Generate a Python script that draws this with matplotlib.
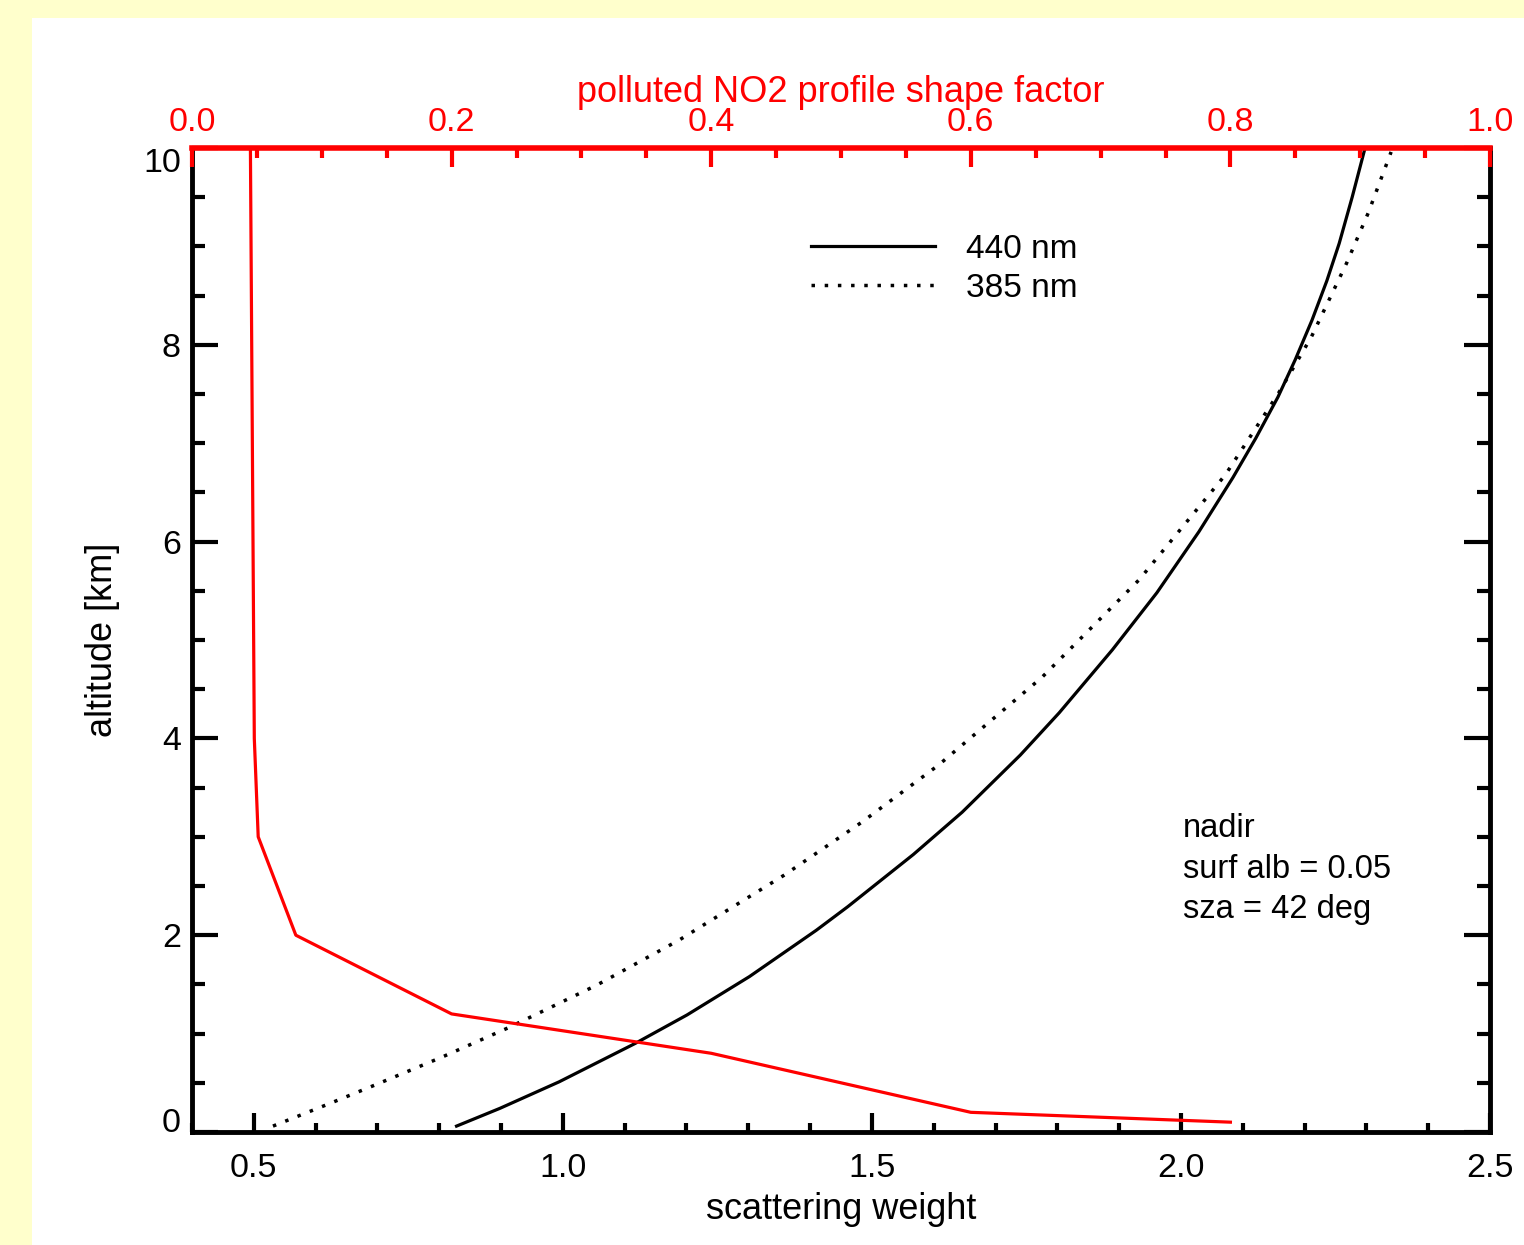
import matplotlib
matplotlib.use('Agg')
import matplotlib.pyplot as plt
import matplotlib.patches as patches
from matplotlib.ticker import MultipleLocator

plt.rcParams['font.family'] = ['Liberation Sans', 'DejaVu Sans']

# scattering weight, 440 nm (solid)
alt_440 = [0.06, 0.24, 0.51, 0.90, 1.19, 1.58, 2.05, 2.29, 2.82, 3.25, 3.83,
           4.26, 4.90, 5.48, 6.10, 6.65, 7.05, 7.47, 7.85, 8.25, 8.65, 9.03,
           9.50, 9.98]
sw_440 = [0.828, 0.898, 0.994, 1.117, 1.201, 1.302, 1.410, 1.461, 1.567, 1.646,
          1.740, 1.803, 1.889, 1.961, 2.029, 2.084, 2.121, 2.157, 2.185, 2.212,
          2.236, 2.256, 2.277, 2.297]

# scattering weight, 385 nm (dotted)
alt_385 = [0.06, 0.29, 0.48, 0.76, 1.06, 1.49, 1.95, 2.61, 3.15, 3.73, 4.62,
           5.61, 6.68, 7.51, 8.08, 8.83, 9.34, 9.96]
sw_385 = [0.531, 0.623, 0.697, 0.804, 0.912, 1.054, 1.188, 1.358, 1.484, 1.608,
          1.775, 1.932, 2.072, 2.158, 2.211, 2.268, 2.303, 2.340]

# polluted NO2 profile shape factor (red, top axis)
alt_no2 = [10.0, 4.0, 3.0, 2.0, 1.2, 0.8, 0.2, 0.1]
shape_no2 = [0.045, 0.048, 0.051, 0.080, 0.200, 0.400, 0.600, 0.800]

legend_labels = ['440 nm', '385 nm']
info_text = 'nadir\nsurf alb = 0.05\nsza = 42 deg'

TICK_FS = 24.5
LABEL_FS = 26

W, H = 1524, 1245
fig = plt.figure(figsize=(W / 100, H / 100), dpi=100, facecolor='#FFFFCC')
# white sheet on the pale yellow page
fig.add_artist(patches.Rectangle((32 / W, 0), 1, (H - 18) / H,
                                 transform=fig.transFigure,
                                 facecolor='white', edgecolor='none', zorder=0))

ax = fig.add_axes([192 / W, 1 - 1132 / H, 1298 / W, 984 / H])
ax.set_facecolor('none')

l1, = ax.plot(sw_440, alt_440, color='k', lw=2.3)
l2, = ax.plot(sw_385, alt_385, color='k', lw=2.5, linestyle=(0, (1, 2.8)))

ax.set_xlim(0.4, 2.5)
ax.set_ylim(0, 10)
ax.xaxis.set_minor_locator(MultipleLocator(0.1))
ax.yaxis.set_minor_locator(MultipleLocator(0.5))
ax.set_xticks([0.5, 1.0, 1.5, 2.0, 2.5])
ax.set_xticklabels(['0.5', '1.0', '1.5', '2.0', '2.5'])
ax.set_yticks([0, 2, 4, 6, 8, 10])
ax.set_yticklabels(['0', '2', '4', '6', '8', '10'])

ax.tick_params(axis='x', which='major', direction='in', length=13.5, width=3,
               labelsize=TICK_FS, pad=15, top=False)
ax.tick_params(axis='x', which='minor', direction='in', length=6.8, width=3, top=False)
ax.tick_params(axis='y', which='major', direction='in', length=18.5, width=3,
               labelsize=TICK_FS, pad=8, left=True, right=True)
ax.tick_params(axis='y', which='minor', direction='in', length=9.3, width=3,
               left=True, right=True)
ylabs = ax.get_yticklabels()
ylabs[0].set_va('baseline')
ylabs[-1].set_va('top')

for s in ['left', 'right', 'bottom']:
    ax.spines[s].set_linewidth(3.5)
ax.spines['top'].set_visible(False)

ax.set_xlabel('scattering weight', fontsize=LABEL_FS)
ax.xaxis.set_label_coords(0.5, -0.061)
ax.set_ylabel('altitude [km]', fontsize=LABEL_FS)
ax.yaxis.set_label_coords(-0.0555, 0.5)

# top axis for the NO2 profile
ax2 = ax.twiny()
ax2.plot(shape_no2, alt_no2, color='red', lw=2.3)
ax2.set_xlim(0, 1)
ax2.set_xticks([0.0, 0.2, 0.4, 0.6, 0.8, 1.0])
ax2.set_xticklabels(['0.0', '0.2', '0.4', '0.6', '0.8', '1.0'])
ax2.xaxis.set_minor_locator(MultipleLocator(0.05))
ax2.tick_params(axis='x', which='major', direction='in', length=14, width=3,
                labelsize=TICK_FS, pad=7, colors='red')
ax2.tick_params(axis='x', which='minor', direction='in', length=7, width=3,
                colors='red')
for s in ['left', 'right', 'bottom']:
    ax2.spines[s].set_visible(False)
ax2.spines['top'].set_color('red')
ax2.spines['top'].set_linewidth(4)
ax2.set_xlabel('polluted NO2 profile shape factor', fontsize=LABEL_FS, color='red')
ax2.xaxis.set_label_coords(0.5, 1.047)

ax2.legend([l1, l2], legend_labels, loc='upper left', bbox_to_anchor=(0.477, 0.913),
           frameon=False, fontsize=24, handlelength=3.72, handletextpad=0.93,
           labelspacing=0.25, borderpad=0, borderaxespad=0)

ax2.text(0.7635, 0.267, info_text, transform=ax2.transAxes, fontsize=23.5,
         ha='left', va='center', linespacing=1.39)

fig.savefig('out.png', dpi=100, facecolor=fig.get_facecolor())
